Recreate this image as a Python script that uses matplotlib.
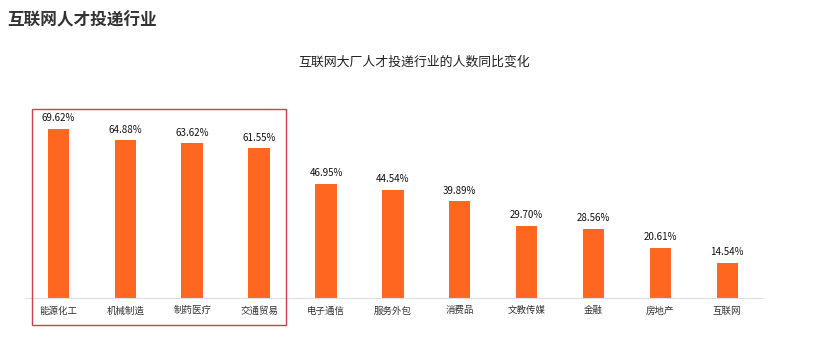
import matplotlib.pyplot as plt
from matplotlib.patches import Rectangle

plt.rcParams['font.family'] = ['Noto Sans CJK SC', 'DejaVu Sans']

industries = ["能源化工", "机械制造", "制药医疗", "交通贸易", "电子通信", "服务外包",
              "消费品", "文教传媒", "金融", "房地产", "互联网"]
yoy_pct = [69.62, 64.88, 63.62, 61.55, 46.95, 44.54, 39.89, 29.70, 28.56, 20.61, 14.54]

fig = plt.figure(figsize=(8.31, 3.51), dpi=100)
ax = fig.add_axes([25 / 831, 53 / 351, 737 / 831, 198 / 351])

x = range(len(industries))
ax.bar(x, yoy_pct, width=0.32, color="#FF6620", zorder=2)

for xi, v in zip(x, yoy_pct):
    ax.annotate(f"{v:.2f}%", (xi, v), xytext=(0, 4), textcoords="offset points",
                ha="center", va="bottom", fontsize=7, color="#111111")

ax.set_xlim(-0.5, 10.52)
ax.set_ylim(0, 81.5)
ax.set_xticks(list(x))
ax.set_xticklabels(industries, fontsize=6.8, color="#333333")
ax.tick_params(axis="x", length=0, pad=6)
ax.set_yticks([])
for s in ["top", "right", "left"]:
    ax.spines[s].set_visible(False)
ax.spines["bottom"].set_color("#dddddd")
ax.spines["bottom"].set_linewidth(0.8)

# highlight box around the top four industries
ax.add_patch(Rectangle((-0.40, -11.1), 3.81, 88.9, fill=False, edgecolor="#c8424f",
                       linewidth=1.0, clip_on=False, zorder=3))

fig.text(7 / 831, 1 - 20 / 351, "互联网人才投递行业", fontsize=12, fontweight="bold",
         color="#333333", va="center", ha="left")
fig.text(414 / 831, 1 - 62 / 351, "互联网大厂人才投递行业的人数同比变化", fontsize=9.3,
         color="#222222", va="center", ha="center")

fig.savefig("out.png", dpi=100)
